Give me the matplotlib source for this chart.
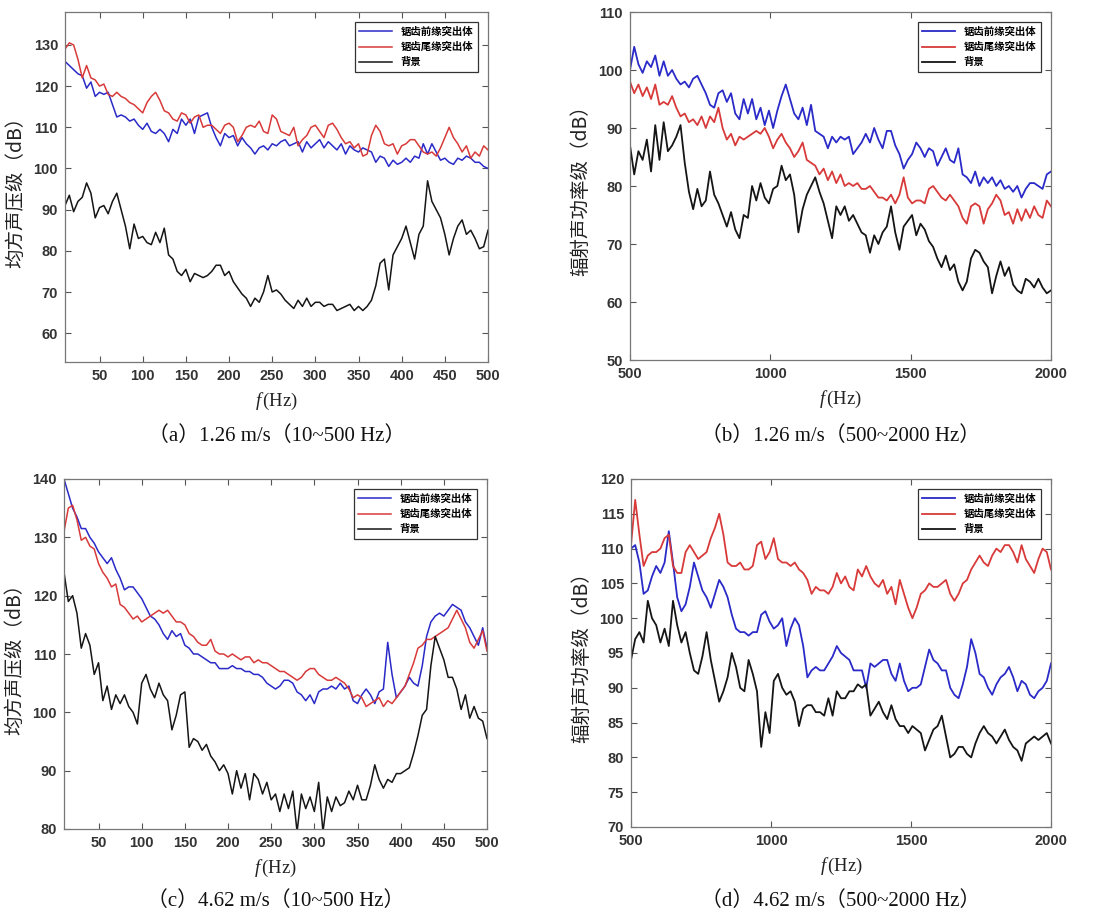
import numpy as np
import matplotlib
matplotlib.use("Agg")
import matplotlib.pyplot as plt

plt.rcParams['font.family'] = ['Liberation Sans', 'Noto Sans CJK SC']
plt.rcParams['mathtext.fontset'] = 'custom'
plt.rcParams['mathtext.it'] = 'Liberation Serif:italic'
plt.rcParams['mathtext.rm'] = 'Liberation Serif'

labels = ['锯齿前缘突出体', '锯齿尾缘突出体', '背景']
colors = ['#2a2ac8', '#d83a3a', '#151515']

# low band frequency grid (Hz), high band frequency grid (Hz)
f_low = np.arange(10, 501, 5)
f_high = np.arange(500, 2001, 15)

# (a) 1.26 m/s, 10~500 Hz
a_lead = [126, 125, 124, 123, 122.5, 119.5, 121, 117.5, 118.5, 118,
          118.5, 115.5, 112.5, 113, 112.5, 111.5, 112, 110.5, 109.5, 111,
          109, 108.5, 109.5, 108.5, 106.5, 109.5, 108.5, 112, 110.5, 112,
          108.5, 112.5, 113, 113.5, 110, 107.5, 105.5, 108.5, 107.5, 108,
          105.5, 107.5, 106, 105, 103.5, 105, 105.5, 104.5, 106, 105.5,
          106.5, 107, 105.5, 106, 106.5, 104, 106.5, 105, 106, 107,
          105, 106.5, 105.5, 104.5, 106, 103.5, 105.5, 104.5, 104, 105,
          104.5, 104, 101.5, 103, 102.5, 100.5, 102, 101, 101.5, 102.5,
          101.5, 103, 102.5, 106, 103.5, 106, 104, 102, 102.5, 101.5,
          101, 102.5, 102, 103, 102.5, 101.5, 101.5, 100.5, 100]
a_trail = [129, 130.5, 130, 126.5, 122, 125, 122, 121.5, 120, 120.5,
           118, 117.5, 118.5, 117.5, 117, 116, 115.5, 114.5, 113.5, 116,
           117.5, 118.5, 116.5, 114, 113.5, 112, 111.5, 113.5, 113, 111,
           112.5, 113, 110, 110.5, 110.5, 109.5, 108.5, 110.5, 111, 110,
           106.5, 108, 110, 110.5, 110, 111.5, 109, 108.5, 113, 112,
           109, 108.5, 108, 110, 105.5, 107, 108, 110, 110.5, 109,
           107.5, 110.5, 111, 109.5, 107.5, 106, 106.5, 105, 106, 103,
           103.5, 108, 110.5, 109, 106, 105.5, 106, 103.5, 105.5, 106,
           107, 107, 105.5, 104, 103.5, 104, 103, 105, 107.5, 110,
           107.5, 106, 104, 105.5, 102.5, 104, 103, 105.5, 104.5]
a_bg = [91, 93.5, 89.5, 92, 93, 96.5, 94, 88, 90.5, 91,
        89, 92, 94, 90, 86, 80.5, 86.5, 83, 83.5, 82,
        81.5, 84.5, 82, 85.5, 79, 78, 75, 74, 75.5, 72.5,
        74.5, 74, 73.5, 74, 75, 76.5, 76.5, 74, 75, 72.5,
        71, 69.5, 68.5, 66.5, 68.5, 67.5, 70, 74, 70, 70.5,
        69.5, 68, 67, 66, 68, 66.5, 68.5, 66.5, 67.5, 67.5,
        66.5, 67, 67, 65.5, 66, 66.5, 67, 65.5, 66.5, 65.5,
        66.5, 68, 71.5, 77, 78, 70.5, 79, 81, 83, 86,
        82, 78, 84, 86, 97, 92, 90, 88, 84, 79,
        83, 86, 87.5, 84, 85, 83, 80.5, 81, 85]

# (b) 1.26 m/s, 500~2000 Hz
b_lead = [100, 104, 101, 99.5, 101.5, 100.5, 102.5, 99, 101.5, 99,
          100, 98.5, 97.5, 98, 97, 98.5, 99, 97.5, 96, 94,
          93.5, 96, 96.5, 94.5, 96, 92.5, 91.5, 95, 92.5, 95,
          91.5, 93.5, 90.5, 93, 90, 93, 95.5, 97.5, 95, 92.5,
          91.5, 93.5, 90.5, 94, 89.5, 89, 88.5, 86.5, 88.5, 87.5,
          88.5, 88, 88.5, 85.5, 86.5, 87.5, 89, 87.5, 90, 88,
          86.5, 89.5, 89.5, 87, 85.5, 83, 84.5, 85.5, 87.5, 86.5,
          85, 86.5, 86, 83.5, 85, 86.5, 84.5, 84, 86.5, 82,
          81.5, 80.5, 82.5, 80, 81.5, 80.5, 81.5, 80, 81, 79.5,
          80, 79, 80, 78, 79.5, 80.5, 80.5, 80, 79.5, 82,
          82.5]
b_trail = [98, 96, 97.5, 95.5, 97, 95, 97.5, 94, 94.5, 94,
           95.5, 93.5, 92, 92.5, 91, 91.5, 90.5, 92, 90, 92,
           91, 93.5, 90, 88, 89, 87, 88.5, 88, 88.5, 89,
           89.5, 89, 90, 88.5, 86.5, 88, 89, 87.5, 86.5, 85,
           86, 87.5, 84.5, 84, 83.5, 82, 83, 81, 82.5, 80.5,
           82, 80, 80.5, 80, 80.5, 79.5, 79.5, 80, 79, 78,
           78, 77.5, 78.5, 77, 78.5, 81.5, 78, 77, 77.5, 77.5,
           77, 79.5, 80, 79, 78, 77.5, 78.5, 77.5, 76.5, 74.5,
           73.5, 76.5, 77, 76.5, 73.5, 76, 77, 78.5, 77.5, 75,
           75.5, 73.5, 76, 74, 76, 74.5, 76.5, 75, 74.5, 77.5,
           76.5]
b_bg = [87, 82, 86, 84.5, 88, 82.5, 90.5, 84.5, 91, 86,
        87, 88.5, 90.5, 84, 79, 76, 79.5, 76.5, 77.5, 82.5,
        78.5, 77, 75, 73, 75.5, 72.5, 71, 75, 74.5, 80,
        77.5, 80.5, 78, 77, 79.5, 80, 83.5, 81, 82, 78.5,
        72, 76, 78.5, 80, 81.5, 79, 77, 74, 71, 76.5,
        75, 76.5, 74, 75, 73.5, 72, 71.5, 68.5, 71.5, 70,
        72, 73, 76.5, 72, 69, 73, 74, 75, 71.5, 73.5,
        72.5, 70.5, 69.5, 67.5, 66, 68, 65.5, 66.5, 63.5, 62,
        63.5, 67.5, 69, 68.5, 67, 66, 61.5, 64.5, 67, 64.5,
        66, 63, 62, 61.5, 64, 63.5, 62.5, 64, 62.5, 61.5,
        62]

# (c) 4.62 m/s, 10~500 Hz
c_lead = [140, 137.5, 135, 133.5, 131.5, 131.5, 130, 129, 127.5, 126.5,
          125.5, 126.5, 124.5, 123, 121, 121.5, 121.5, 120.5, 119.5, 118,
          116.5, 116, 115, 113.5, 112.5, 114, 113, 113.5, 111.5, 111,
          110, 110, 109.5, 109, 108.5, 108.5, 107.5, 107.5, 107.5, 108,
          107.5, 107.5, 107, 107, 106.5, 106.5, 106, 105, 104.5, 104,
          104.5, 105.5, 105.5, 105, 103.5, 103, 102, 103, 101.5, 103.5,
          104, 104, 104.5, 104, 105, 104, 104.5, 102, 101.5, 103,
          104, 103, 101.5, 103.5, 104, 112, 106.5, 102.5, 103.5, 104.5,
          106, 105, 104.5, 108, 113, 115.5, 116.5, 117, 116.5, 117.5,
          118.5, 118, 117.5, 115.5, 114.5, 113, 111.5, 114.5, 111]
c_trail = [131, 135, 135.5, 133, 129.5, 130, 128.5, 128, 125.5, 124,
           123, 121.5, 122, 118.5, 118, 117, 116, 116.5, 115.5, 116,
           116.5, 117, 117.5, 117, 117.5, 116.5, 115.5, 115.5, 115, 113.5,
           113, 112, 111.5, 111.5, 112.5, 110.5, 110, 110, 109.5, 110,
           109.5, 109, 109.5, 109.5, 108.5, 109, 108.5, 108.5, 108, 107.5,
           107, 107, 106.5, 106, 105.5, 106, 107, 107.5, 107.5, 106.5,
           106, 105.5, 105.5, 106, 105.5, 105, 104, 102.5, 103, 102.5,
           101, 101.5, 102, 102.5, 101, 102, 101.5, 102.5, 103.5, 104.5,
           106.5, 108.5, 111, 111.5, 112.5, 112.5, 113, 113.5, 114, 114.5,
           116, 117.5, 116, 114.5, 112, 111, 112.5, 114, 110.5]
c_bg = [124, 119, 120, 117, 111, 113.5, 111.5, 106.5, 108.5, 102,
        104.5, 100.5, 103, 101.5, 103, 101, 100, 98, 105, 106.5,
        104, 102.5, 105, 103, 102, 97, 99.5, 103, 103.5, 94,
        95.5, 95, 93.5, 94.5, 92.5, 91.5, 90, 91, 89.5, 86,
        90, 87, 89.5, 85, 89.5, 88.5, 86, 88, 85, 86,
        83, 86, 83.5, 86.5, 79.5, 86, 83.5, 85.5, 83, 88,
        79.5, 85.5, 83, 85.5, 84, 84.5, 86.5, 85, 87.5, 85,
        85, 87.5, 91, 88.5, 87, 88.5, 88, 89.5, 89.5, 90,
        90.5, 93, 96, 99.5, 100.5, 108, 113, 111, 109, 106,
        106, 104, 100.5, 103, 99, 101, 99, 98.5, 95.5]

# (d) 4.62 m/s, 500~2000 Hz
d_lead = [110, 110.5, 108, 103.5, 104, 106, 107.5, 106.5, 108, 112.5,
          108, 103, 101, 102, 104.5, 108, 106, 104, 103, 101.5,
          103.5, 105.5, 104.5, 103, 100.5, 98.5, 98, 98, 97.5, 98,
          98, 100.5, 101, 99.5, 98.5, 99, 100, 96, 98.5, 100,
          99, 96, 91.5, 92.5, 93, 92.5, 92.5, 93.5, 94.5, 96,
          95, 94.5, 94, 92.5, 92.5, 92.5, 90, 93.5, 93, 93.5,
          94, 94, 92, 91, 93.5, 91, 89.5, 90, 90, 90.5,
          93, 95.5, 94, 93.5, 92.5, 92.5, 90, 89, 88.5, 90.5,
          93, 97, 95, 92, 91.5, 90, 89, 90.5, 91.5, 92,
          93, 91.5, 89.5, 91, 90.5, 89, 88.5, 89.5, 90, 91,
          93.5]
d_trail = [110.5, 117, 112, 107.5, 109, 109.5, 109.5, 110, 111.5, 112,
           107.5, 106.5, 106.5, 109.5, 110.5, 109.5, 108.5, 109, 109.5, 111.5,
           113, 115, 112, 108, 107.5, 107.5, 108, 107, 107, 107.5,
           110.5, 111, 108.5, 109.5, 111.5, 108.5, 108, 108, 107.5, 108,
           107, 106.5, 105.5, 103.5, 104.5, 104, 104, 103.5, 104.5, 106.5,
           105, 106, 104.5, 104, 107, 106, 107.5, 106, 105, 104.5,
           105.5, 103.5, 104.5, 102, 105.5, 103.5, 101.5, 100, 101.5, 103.5,
           104, 105, 104.5, 104.5, 105, 105.5, 103.5, 102.5, 103.5, 105,
           105.5, 107, 108, 109, 108, 107.5, 109, 110, 109.5, 110.5,
           110.5, 109.5, 108, 110.5, 108.5, 107.5, 106.5, 108.5, 110, 109.5,
           107]
d_bg = [94, 97, 98, 96.5, 102.5, 100, 99, 96.5, 98.5, 96,
        102.5, 99, 96.5, 98, 95, 92.5, 92, 94.5, 98, 94,
        91, 88, 89.5, 91.5, 95, 93, 90, 89.5, 94, 92,
        89.5, 81.5, 86.5, 83.5, 91, 92, 90, 89, 89.5, 88,
        84.5, 87, 87.5, 87.5, 86.5, 86.5, 86, 88.5, 86, 89.5,
        88.5, 88.5, 89.5, 89.5, 90.5, 90, 90.5, 86, 87, 88,
        86.5, 85.5, 87.5, 85.5, 84.5, 84.5, 83.5, 84.5, 84, 83.5,
        81, 82.5, 84, 84.5, 86, 83, 80, 80.5, 81.5, 81.5,
        80.5, 80, 82, 83.5, 84.5, 83.5, 83, 82, 83, 84,
        82.5, 81.5, 81, 79.5, 82, 82.5, 83, 82.5, 83, 83.5,
        82]

W, H = 1098, 916
fig = plt.figure(figsize=(W / 100, H / 100), dpi=100)


def px_axes(x0, y0, x1, y1):
    return fig.add_axes([x0 / W, 1 - y1 / H, (x1 - x0) / W, (y1 - y0) / H])


panels = [
    (px_axes(65, 12, 488, 362), f_low, (a_lead, a_trail, a_bg), (10, 500), (53, 138),
     np.arange(50, 501, 50), np.arange(60, 131, 10), '均方声压级（dB）',
     '（a）1.26 m/s（10~500 Hz）', 436, 1.1),
    (px_axes(630, 12, 1051, 360), f_high, (b_lead, b_trail, b_bg), (500, 2000), (50, 110),
     [500, 1000, 1500, 2000], np.arange(50, 111, 10), '辐射声功率级（dB）',
     '（b）1.26 m/s（500~2000 Hz）', 436, 1.3),
    (px_axes(64, 479, 487, 829), f_low, (c_lead, c_trail, c_bg), (10, 500), (80, 140),
     np.arange(50, 501, 50), np.arange(80, 141, 10), '均方声压级（dB）',
     '（c）4.62 m/s（10~500 Hz）', 901, 1.1),
    (px_axes(631, 479, 1051, 827), f_high, (d_lead, d_trail, d_bg), (500, 2000), (70, 120),
     [500, 1000, 1500, 2000], np.arange(70, 121, 5), '辐射声功率级（dB）',
     '（d）4.62 m/s（500~2000 Hz）', 901, 1.3),
]

serif = ['Liberation Serif', 'Noto Sans CJK SC']

for ax, f, series, xl, yl, xt, yt, ylab, cap, cap_y, lw in panels:
    for y, c, lab in zip(series, colors, labels):
        ax.plot(f, y, color=c, lw=lw, label=lab)
    ax.set_xlim(*xl)
    ax.set_ylim(*yl)
    ax.set_xticks(xt)
    ax.set_yticks(yt)
    ax.tick_params(direction='in', top=True, right=True, length=4, width=0.8,
                   colors='#555555', labelcolor='#333333', labelsize=10.5, pad=5)
    for t in ax.get_xticklabels() + ax.get_yticklabels():
        t.set_fontweight('bold')
    for s in ax.spines.values():
        s.set_color('#777777')
        s.set_linewidth(0.9)
    ax.set_ylabel(ylab, family=['Noto Sans CJK SC'], fontsize=14, color='#222222', labelpad=5)
    ax.set_xlabel(r'$\mathit{f}\,$(Hz)', family=serif, fontsize=13.5, color='#222222', labelpad=6)
    leg = ax.legend(loc='upper right', handlelength=3.2, borderaxespad=1.0,
                    fancybox=False, framealpha=1, edgecolor='#333333',
                    prop={'family': ['Noto Sans CJK SC'], 'size': 7.5, 'weight': 'bold'})
    leg.get_frame().set_linewidth(0.9)
    bb = ax.get_position()
    fig.text((bb.x0 + bb.x1) / 2, 1 - cap_y / H, cap, ha='center', va='center',
             family=serif, fontsize=15, color='#111111')

fig.savefig('out.png', dpi=100, facecolor='white')
